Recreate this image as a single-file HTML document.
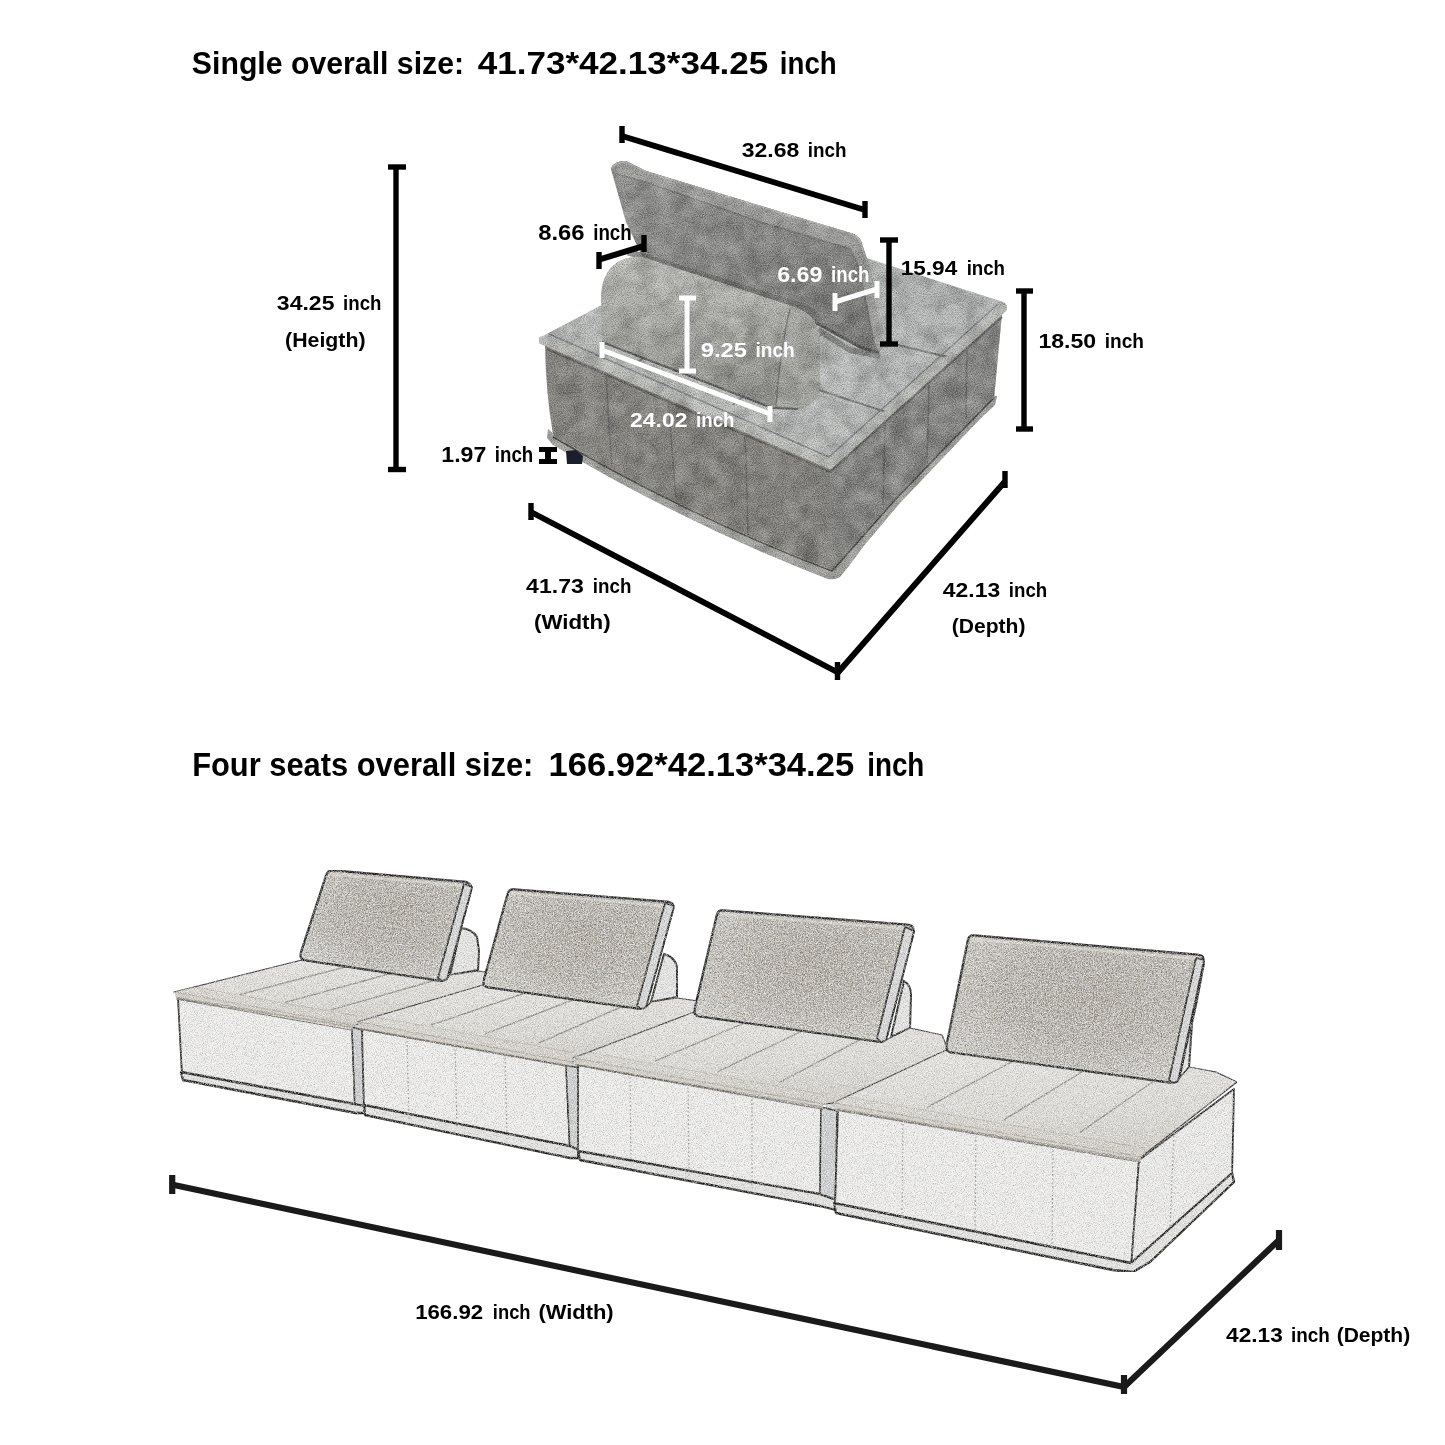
<!DOCTYPE html>
<html><head><meta charset="utf-8"><style>
html,body{margin:0;padding:0;background:#fff;width:1445px;height:1445px;overflow:hidden}
svg{display:block}
text{font-family:"Liberation Sans",sans-serif;font-weight:bold}
</style></head><body>
<svg width="1445" height="1445" viewBox="0 0 1445 1445">
<rect width="1445" height="1445" fill="#fff"/>

<defs>
  <linearGradient id="gFront" x1="0" y1="0" x2="0" y2="1">
    <stop offset="0" stop-color="#86857f"/><stop offset="1" stop-color="#7e7d77"/>
  </linearGradient>
  <linearGradient id="gRight" x1="0" y1="0" x2="1" y2="0">
    <stop offset="0" stop-color="#7f807c"/><stop offset="1" stop-color="#888985"/>
  </linearGradient>
  <linearGradient id="gTop" x1="0" y1="1" x2="1" y2="0">
    <stop offset="0" stop-color="#c5c6c2"/><stop offset="0.5" stop-color="#c0c4c2"/><stop offset="1" stop-color="#b3b7b5"/>
  </linearGradient>
  <linearGradient id="gBol" x1="0" y1="0" x2="0" y2="1">
    <stop offset="0" stop-color="#c6c6c1"/><stop offset="0.45" stop-color="#adada8"/><stop offset="1" stop-color="#8c8c88"/>
  </linearGradient>
  <linearGradient id="gBack" x1="0" y1="0" x2="1" y2="1">
    <stop offset="0" stop-color="#929290"/><stop offset="0.5" stop-color="#858582"/><stop offset="1" stop-color="#72726f"/>
  </linearGradient>
  <filter id="grain" x="0" y="0" width="100%" height="100%" color-interpolation-filters="sRGB">
    <feTurbulence type="fractalNoise" baseFrequency="0.055" numOctaves="3" seed="4" result="n1"/>
    <feTurbulence type="fractalNoise" baseFrequency="0.9" numOctaves="2" seed="7" result="n2"/>
    <feColorMatrix in="n1" type="matrix" values="0 0 0 0 0  0 0 0 0 0  0 0 0 0 0  0.45 0 0 0 -0.17" result="d1"/>
    <feColorMatrix in="n1" type="matrix" values="0 0 0 0 1  0 0 0 0 1  0 0 0 0 1  0 0.45 0 0 -0.17" result="l1"/>
    <feColorMatrix in="n2" type="matrix" values="0 0 0 0 0  0 0 0 0 0  0 0 0 0 0  0.6 0 0 0 -0.2" result="d2"/>
    <feColorMatrix in="n2" type="matrix" values="0 0 0 0 1  0 0 0 0 1  0 0 0 0 1  0 0.6 0 0 -0.2" result="l2"/>
    <feMerge result="m"><feMergeNode in="d1"/><feMergeNode in="l1"/><feMergeNode in="d2"/><feMergeNode in="l2"/></feMerge>
    <feComposite in="m" in2="SourceAlpha" operator="in" result="m2"/>
    <feMerge><feMergeNode in="SourceGraphic"/><feMergeNode in="m2"/></feMerge>
  </filter>
  <filter id="grainL" x="0" y="0" width="100%" height="100%" color-interpolation-filters="sRGB">
    <feTurbulence type="fractalNoise" baseFrequency="1.1" numOctaves="2" seed="3" result="n"/>
    <feColorMatrix in="n" type="matrix" values="0 0 0 0 0.45  0 0 0 0 0.43  0 0 0 0 0.4  1.0 0 0 0 -0.42" result="d"/>
    <feColorMatrix in="n" type="matrix" values="0 0 0 0 1  0 0 0 0 1  0 0 0 0 1  0 1.6 0 0 -0.6" result="l"/>
    <feComposite in="d" in2="SourceAlpha" operator="in" result="d2"/>
    <feComposite in="l" in2="SourceAlpha" operator="in" result="l2"/>
    <feMerge><feMergeNode in="SourceGraphic"/><feMergeNode in="d2"/><feMergeNode in="l2"/></feMerge>
  </filter>
  <filter id="grainP" x="0" y="0" width="100%" height="100%" color-interpolation-filters="sRGB">
    <feTurbulence type="fractalNoise" baseFrequency="0.75" numOctaves="2" seed="11" result="n"/>
    <feColorMatrix in="n" type="matrix" values="0 0 0 0 0.35  0 0 0 0 0.33  0 0 0 0 0.3  1.6 0 0 0 -0.62" result="d"/>
    <feColorMatrix in="n" type="matrix" values="0 0 0 0 1  0 0 0 0 1  0 0 0 0 1  0 1.8 0 0 -0.7" result="l"/>
    <feComposite in="d" in2="SourceAlpha" operator="in" result="d2"/>
    <feComposite in="l" in2="SourceAlpha" operator="in" result="l2"/>
    <feMerge><feMergeNode in="SourceGraphic"/><feMergeNode in="d2"/><feMergeNode in="l2"/></feMerge>
  </filter>
</defs>
<g id="upper" filter="url(#grain)">
  <!-- base lip -->
  <path d="M548,429 L556,436 Q694,514 832,566 L895,496 L943,446 L980,408 L991,396 L997,396 L995,405 L980,419 L900,503 L863,547 L849,566 L840,577 Q835,580 828,579 Q690,526 553,445 L547,438 Z" fill="#a9a9a5"/>
  <!-- seat right face -->
  <path d="M830,468 L1002,314 L994,399 L980,412 L943,450 L895,500 L834,571 Z" fill="url(#gRight)"/>
  <!-- seat front face -->
  <path d="M545,345 L830,468 L836,571 Q694,518 556,437 L553,434 Q546,395 545,345 Z" fill="url(#gFront)"/>
  <path d="M553,437 Q694,519 832,571 L895,500 L943,450 L980,412 L993,399" stroke="#3f3f3d" stroke-width="1.5" fill="none" stroke-linejoin="round"/>
  <!-- seams -->
  <g stroke="#5d5c58" stroke-width="1.6" fill="none" opacity="0.85">
    <path d="M606,372 Q608,420 612,466"/>
    <path d="M668,398 Q672,450 676,498"/>
    <path d="M745,432 Q747,490 748,535"/>
    <path d="M885,423 Q884,470 883,505"/>
    <path d="M929,385 Q928,430 927,459"/>
    <path d="M967,350 Q966,390 966,419"/>
  </g>
  <!-- seat top -->
  <path d="M539,338 L758,223 L1000,301 Q1008,303 1006,308 L830,465 Z" fill="url(#gTop)"/>
  <!-- tufting -->
  <g stroke="#6f7170" stroke-width="2" fill="none" opacity="0.9">
    <path d="M604,309 Q700,352 886,412"/>
    <path d="M658,274 Q780,318 948,357"/>
    <path d="M636,363 Q700,320 779,276"/>
    <path d="M733,405 Q800,350 873,296"/>
  </g>
  <g stroke="#b3b5b3" stroke-width="2" fill="none" opacity="0.6">
    <path d="M600,310 Q700,356 886,418"/>
    <path d="M660,278 Q780,322 946,362"/>
  </g>
  <!-- piping on seat top edges -->
  <path d="M547,349 L830,472 L1002,317" stroke="#5a5a58" stroke-width="2" fill="none" stroke-linejoin="round"/>
  <path d="M539,340 L830,466 L1005,308" stroke="#c0c0bc" stroke-width="6" fill="none" stroke-linejoin="round" stroke-linecap="round"/>
  <path d="M549,334 L829,457 L998,304" stroke="#777977" stroke-width="1.6" fill="none" stroke-linejoin="round" opacity="0.85"/>
  <path d="M540,337 L830,462 L1004,305" stroke="#c6c6c2" stroke-width="1.5" fill="none" stroke-linejoin="round" opacity="0.7"/>
  <!-- back cushion -->
  <path d="M611,169 Q613,161 626,161 L646,171 L854,234 Q861,238 862,244 L870,268 L883,332 L886,343 L879,352 L860,347 L815,321 L642,256 L626,222 Z" fill="url(#gBack)"/>
  <!-- welt band top+right -->
  <path d="M611,169 Q613,161 626,161 L646,171 L854,234 Q861,238 862,244 L870,268 L883,332 L886,343 L879,352 L874,340 L860,268 L851,248 L760,221 L648,182 L617,173 Z" fill="#a3a3a0"/>
  <path d="M617,174 L648,183 L760,222 L850,249 L859,268 L873,338" stroke="#6f6f6c" stroke-width="1.3" fill="none"/>
  <path d="M612,170 Q614,162 626,162 L646,172 L854,235 Q860,239 861,244 L869,268 L882,332 L885,343" stroke="#b8b8b4" stroke-width="1.5" fill="none"/>
  <path d="M815,322 L860,347 L879,353" stroke="#4a4a48" stroke-width="3" fill="none"/>
  <path d="M628,252 L800,306 Q815,312 820,322" stroke="#5c5c5a" stroke-width="7" fill="none" opacity="0.7"/>
  <path d="M818,330 L850,350 L880,356" stroke="#555553" stroke-width="6" fill="none" opacity="0.6"/>
  <!-- bolster -->
  <path d="M601,302 Q600,268 624,259 Q635,256 642,257 L792,306 Q818,314 820,340 L820,385 Q818,405 798,409 L772,408 L602,342 Z" fill="url(#gBol)"/>
  <path d="M612,270 Q625,262 642,262 L790,312" stroke="#bdbdb9" stroke-width="5" fill="none" opacity="0.55"/>
  <path d="M790,309 Q780,350 776,406 L798,409 Q818,405 820,385 L820,340 Q818,316 796,308 Z" fill="#a7a7a3"/>
  <path d="M790,309 Q780,350 776,406" stroke="#6c6c69" stroke-width="1.4" fill="none"/>
  <path d="M602,342 L772,408 L798,409" stroke="#4e4e4c" stroke-width="2" fill="none"/>
</g>
<!-- foot -->
<path d="M566,451 L576,450 L583,456 L582,464 L567,464 Z" fill="#1a1f2b"/>


<defs>
  <linearGradient id="gLTop" x1="0" y1="0" x2="0" y2="1">
    <stop offset="0" stop-color="#e4e3e0"/><stop offset="0.6" stop-color="#dad8d4"/><stop offset="1" stop-color="#cbc7c0"/>
  </linearGradient>
  <radialGradient id="gPil" cx="0.55" cy="0.4" r="0.65">
    <stop offset="0" stop-color="#9d978d"/><stop offset="0.55" stop-color="#aca79f"/><stop offset="1" stop-color="#d0cdc7"/>
  </radialGradient>
</defs>

<g filter="url(#grainL)">
<g id="lower">
<rect x="351" y="1021" width="12" height="10" fill="#cfcfcd"/>
<rect x="568" y="1057" width="12" height="10" fill="#cfcfcd"/>
<rect x="826" y="1101" width="12" height="10" fill="#cfcfcd"/>
<g><path d="M461,928 Q472,929 477,937 L479,951 L478,970 L450,975 Z" fill="#e4e4e4" stroke="#1e1e1e" stroke-width="2"/><path d="M174,992 L302,960 L447,979 L450,975 L478,971 L486,972 L486,988 L360,1024 L353,1025 Z" fill="url(#gLTop)" stroke="#2a2a2a" stroke-width="1.2" stroke-linejoin="round"/><path d="M178,998 L352,1027 L355,1108 L182,1075 Z" fill="#ededec" stroke="#1e1e1e" stroke-width="1.8" stroke-linejoin="round"/><path d="M352,1027 L362,1030 L364,1110 L355,1108 Z" fill="#c9cbcd" stroke="#1e1e1e" stroke-width="1.4" stroke-linejoin="round"/><path d="M181,1072 L355,1104 L364,1106 L365,1113 L356,1113 L183,1080 Z" fill="#e2e2e0" stroke="#161616" stroke-width="2.3" stroke-linejoin="round"/><clipPath id="cp0"><path d="M174,992 L302,960 L447,979 L450,975 L478,971 L486,972 L486,988 L360,1024 L353,1025 Z"/><path d="M178,998 L352,1027 L355,1108 L182,1075 Z"/><path d="M174,992 L353,1025 L353,1034 L177,1001 Z"/></clipPath><g clip-path="url(#cp0)"><path d="M170,994 L357,1027" stroke="#c4bfb6" stroke-width="6" fill="none" opacity="0.8"/><path d="M170,998 L357,1031" stroke="#6f6a63" stroke-width="1.2" fill="none"/><path d="M170,988 L357,1021" stroke="#d0ccc4" stroke-width="8" fill="none" opacity="0.5"/><path d="M170,983 L357,1016" stroke="#aaa49a" stroke-width="1" fill="none" opacity="0.6"/></g><path d="M239.7,994.6 L347.2,966.5" stroke="#8f8a82" stroke-width="1.4" fill="none"/><path d="M285.0,1002.4 L392.5,973.0" stroke="#8f8a82" stroke-width="1.4" fill="none"/><path d="M330.2,1010.2 L437.8,979.5" stroke="#8f8a82" stroke-width="1.4" fill="none"/><path d="M326.4,874.7 Q328,870 333.0,870.4 L463.0,881.6 Q468,882 469.8,884.3 L470.2,884.7 Q472,887 470.7,891.8 L448.3,974.2 Q447,979 444.7,979.9 L444.3,980.1 Q442,981 437.1,980.3 L306.9,960.7 Q302,960 301.1,957.7 L300.9,957.3 Q300,955 301.6,950.3 Z" fill="url(#gPil)" filter="url(#grainP)"/><path d="M326.4,874.7 Q328,870 333.0,870.4 L463.0,881.6 Q468,882 469.8,884.3 L470.2,884.7 Q472,887 470.7,891.8 L448.3,974.2 Q447,979 444.7,979.9 L444.3,980.1 Q442,981 437.1,980.3 L306.9,960.7 Q302,960 301.1,957.7 L300.9,957.3 Q300,955 301.6,950.3 Z" fill="none" stroke="#1b1b1b" stroke-width="2.3" stroke-linejoin="round"/><path d="M330,874 L465,886" stroke="#d8d6d2" stroke-width="2.5" fill="none" opacity="0.8"/><path d="M464,884 L472,887 L447,979 L442,981 L438,978 Z" fill="#d3d4d5" stroke="#1b1b1b" stroke-width="1.6" stroke-linejoin="round"/><path d="M464,884 L438,978" stroke="#2a2a2a" stroke-width="1.5" fill="none"/></g>
<g><path d="M664,954 Q675,957 677,967 L677,997 L651,1002 Z" fill="#e4e4e4" stroke="#1e1e1e" stroke-width="2"/><path d="M357,1022 L483,985 L646,1007 L651,1002 L677,998 L698,1001 L698,1012 L576,1060 L572,1062 Z" fill="url(#gLTop)" stroke="#2a2a2a" stroke-width="1.2" stroke-linejoin="round"/><path d="M362,1029 L566,1065 L570,1151 L364,1110 Z" fill="#ededec" stroke="#1e1e1e" stroke-width="1.8" stroke-linejoin="round"/><path d="M566,1065 L579,1068 L579,1156 L570,1151 Z" fill="#c9cbcd" stroke="#1e1e1e" stroke-width="1.4" stroke-linejoin="round"/><path d="M364,1105 L570,1146 L579,1150 L580,1158 L570,1158 L365,1115 Z" fill="#e2e2e0" stroke="#161616" stroke-width="2.3" stroke-linejoin="round"/><path d="M407,1037 L409,1120" stroke="#9a9a98" stroke-width="1.2" stroke-dasharray="2 2"/><path d="M455,1045 L457,1129" stroke="#9a9a98" stroke-width="1.2" stroke-dasharray="2 2"/><path d="M505,1054 L507,1139" stroke="#9a9a98" stroke-width="1.2" stroke-dasharray="2 2"/><clipPath id="cp1"><path d="M357,1022 L483,985 L646,1007 L651,1002 L677,998 L698,1001 L698,1012 L576,1060 L572,1062 Z"/><path d="M362,1029 L566,1065 L570,1151 L364,1110 Z"/><path d="M357,1022 L572,1062 L572,1071 L360,1031 Z"/></clipPath><g clip-path="url(#cp1)"><path d="M353,1024 L576,1064" stroke="#c4bfb6" stroke-width="6" fill="none" opacity="0.8"/><path d="M353,1028 L576,1068" stroke="#6f6a63" stroke-width="1.2" fill="none"/><path d="M353,1018 L576,1058" stroke="#d0ccc4" stroke-width="8" fill="none" opacity="0.5"/><path d="M353,1013 L576,1053" stroke="#aaa49a" stroke-width="1" fill="none" opacity="0.6"/></g><path d="M430.9,1025.1 L536.8,989.0" stroke="#8f8a82" stroke-width="1.4" fill="none"/><path d="M484.7,1034.2 L590.5,993.0" stroke="#8f8a82" stroke-width="1.4" fill="none"/><path d="M538.4,1043.2 L644.2,997.0" stroke="#8f8a82" stroke-width="1.4" fill="none"/><path d="M507.7,893.8 Q509,889 514.0,889.4 L666.0,901.6 Q671,902 672.4,903.8 L672.6,904.2 Q674,906 672.7,910.8 L647.3,1002.2 Q646,1007 643.7,1007.9 L643.3,1008.1 Q641,1009 636.0,1008.3 L490.0,987.7 Q485,987 484.1,985.2 L483.9,984.8 Q483,983 484.3,978.2 Z" fill="url(#gPil)" filter="url(#grainP)"/><path d="M507.7,893.8 Q509,889 514.0,889.4 L666.0,901.6 Q671,902 672.4,903.8 L672.6,904.2 Q674,906 672.7,910.8 L647.3,1002.2 Q646,1007 643.7,1007.9 L643.3,1008.1 Q641,1009 636.0,1008.3 L490.0,987.7 Q485,987 484.1,985.2 L483.9,984.8 Q483,983 484.3,978.2 Z" fill="none" stroke="#1b1b1b" stroke-width="2.3" stroke-linejoin="round"/><path d="M511,893 L668,906" stroke="#d8d6d2" stroke-width="2.5" fill="none" opacity="0.8"/><path d="M665,903 L674,906 L646,1007 L641,1009 L637,1006 Z" fill="#d3d4d5" stroke="#1b1b1b" stroke-width="1.6" stroke-linejoin="round"/><path d="M665,903 L637,1006" stroke="#2a2a2a" stroke-width="1.5" fill="none"/></g>
<g><path d="M904,981 Q911,985 911,995 L910,1028 L891,1037 Z" fill="#e4e4e4" stroke="#1e1e1e" stroke-width="2"/><path d="M573,1058 L694,1012 L886,1040 L910,1028 L942,1035 L948,1050 L836,1103 L823,1104 Z" fill="url(#gLTop)" stroke="#2a2a2a" stroke-width="1.2" stroke-linejoin="round"/><path d="M578,1065 L821,1107 L820,1199 L578,1156 Z" fill="#ededec" stroke="#1e1e1e" stroke-width="1.8" stroke-linejoin="round"/><path d="M821,1107 L837,1111 L835,1208 L820,1199 Z" fill="#c9cbcd" stroke="#1e1e1e" stroke-width="1.4" stroke-linejoin="round"/><path d="M578,1151 L820,1194 L836,1200 L836,1210 L820,1206 L580,1160 Z" fill="#e2e2e0" stroke="#161616" stroke-width="2.3" stroke-linejoin="round"/><path d="M630,1073 L631,1165" stroke="#9a9a98" stroke-width="1.2" stroke-dasharray="2 2"/><path d="M688,1083 L689,1176" stroke="#9a9a98" stroke-width="1.2" stroke-dasharray="2 2"/><path d="M752,1095 L752,1188" stroke="#9a9a98" stroke-width="1.2" stroke-dasharray="2 2"/><clipPath id="cp2"><path d="M573,1058 L694,1012 L886,1040 L910,1028 L942,1035 L948,1050 L836,1103 L823,1104 Z"/><path d="M578,1065 L821,1107 L820,1199 L578,1156 Z"/><path d="M573,1058 L823,1104 L823,1113 L576,1067 Z"/></clipPath><g clip-path="url(#cp2)"><path d="M569,1060 L827,1106" stroke="#c4bfb6" stroke-width="6" fill="none" opacity="0.8"/><path d="M569,1064 L827,1110" stroke="#6f6a63" stroke-width="1.2" fill="none"/><path d="M569,1054 L827,1100" stroke="#d0ccc4" stroke-width="8" fill="none" opacity="0.5"/><path d="M569,1049 L827,1095" stroke="#aaa49a" stroke-width="1" fill="none" opacity="0.6"/></g><path d="M654.8,1061.2 L756.0,1017.8" stroke="#8f8a82" stroke-width="1.4" fill="none"/><path d="M717.2,1071.8 L818.0,1023.5" stroke="#8f8a82" stroke-width="1.4" fill="none"/><path d="M779.6,1082.4 L880.0,1029.2" stroke="#8f8a82" stroke-width="1.4" fill="none"/><path d="M716.9,914.9 Q718,910 723.0,910.4 L907.0,924.6 Q912,925 912.9,927.7 L913.1,928.3 Q914,931 912.8,935.8 L887.2,1035.2 Q886,1040 883.7,1040.9 L883.3,1041.1 Q881,1042 876.0,1041.3 L701.0,1016.7 Q696,1016 695.1,1014.2 L694.9,1013.8 Q694,1012 695.1,1007.1 Z" fill="url(#gPil)" filter="url(#grainP)"/><path d="M716.9,914.9 Q718,910 723.0,910.4 L907.0,924.6 Q912,925 912.9,927.7 L913.1,928.3 Q914,931 912.8,935.8 L887.2,1035.2 Q886,1040 883.7,1040.9 L883.3,1041.1 Q881,1042 876.0,1041.3 L701.0,1016.7 Q696,1016 695.1,1014.2 L694.9,1013.8 Q694,1012 695.1,1007.1 Z" fill="none" stroke="#1b1b1b" stroke-width="2.3" stroke-linejoin="round"/><path d="M720,914 L909,929" stroke="#d8d6d2" stroke-width="2.5" fill="none" opacity="0.8"/><path d="M905,927 L914,931 L886,1040 L881,1042 L877,1038 Z" fill="#d3d4d5" stroke="#1b1b1b" stroke-width="1.6" stroke-linejoin="round"/><path d="M905,927 L877,1038" stroke="#2a2a2a" stroke-width="1.5" fill="none"/></g>
<g><path d="M1204,963 L1197,1000 L1192,1023 L1189,1067 L1179,1080 Z" fill="#e4e4e4" stroke="#1e1e1e" stroke-width="2"/><path d="M833,1103 L946,1050 L1177,1081 L1189,1067 L1216,1072 L1237,1082 L1141,1157 Z" fill="url(#gLTop)" stroke="#2a2a2a" stroke-width="1.2" stroke-linejoin="round"/><path d="M838,1109 L1139,1160 L1131,1268 L835,1208 Z" fill="#ededec" stroke="#1e1e1e" stroke-width="1.8" stroke-linejoin="round"/><path d="M1139,1160 L1234,1089 L1232,1178 L1131,1268 Z" fill="#ebebea" stroke="#1e1e1e" stroke-width="1.8" stroke-linejoin="round"/><path d="M834,1203 L1131,1263 L1232,1173 L1234,1182 L1150,1262 L1133,1272 L1113,1270 L836,1213 Z" fill="#e2e2e0" stroke="#161616" stroke-width="2.3" stroke-linejoin="round"/><path d="M903,1120 L902,1218" stroke="#9a9a98" stroke-width="1.2" stroke-dasharray="2 2"/><path d="M976,1132 L975,1233" stroke="#9a9a98" stroke-width="1.2" stroke-dasharray="2 2"/><path d="M1053,1146 L1052,1250" stroke="#9a9a98" stroke-width="1.2" stroke-dasharray="2 2"/><path d="M1174,1132 L1170,1228" stroke="#9a9a98" stroke-width="1.2" stroke-dasharray="2 2"/><clipPath id="cp3"><path d="M833,1103 L946,1050 L1177,1081 L1189,1067 L1216,1072 L1237,1082 L1141,1157 Z"/><path d="M838,1109 L1139,1160 L1131,1268 L835,1208 Z"/><path d="M833,1103 L1141,1157 L1141,1166 L836,1112 Z"/></clipPath><g clip-path="url(#cp3)"><path d="M829,1105 L1145,1159" stroke="#c4bfb6" stroke-width="6" fill="none" opacity="0.8"/><path d="M829,1109 L1145,1163" stroke="#6f6a63" stroke-width="1.2" fill="none"/><path d="M829,1099 L1145,1153" stroke="#d0ccc4" stroke-width="8" fill="none" opacity="0.5"/><path d="M829,1094 L1145,1148" stroke="#aaa49a" stroke-width="1" fill="none" opacity="0.6"/></g><path d="M927.4,1107.1 L1018.8,1058.0" stroke="#8f8a82" stroke-width="1.4" fill="none"/><path d="M1003.7,1119.8 L1091.5,1066.0" stroke="#8f8a82" stroke-width="1.4" fill="none"/><path d="M1080.0,1132.4 L1164.2,1074.0" stroke="#8f8a82" stroke-width="1.4" fill="none"/><path d="M968.0,939.9 Q969,935 974.0,935.4 L1197.0,954.6 Q1202,955 1202.9,957.3 L1203.1,957.7 Q1204,960 1202.9,964.9 L1179.1,1076.1 Q1178,1081 1175.7,1081.9 L1175.3,1082.1 Q1173,1083 1168.0,1082.3 L953.0,1052.7 Q948,1052 947.1,1050.2 L946.9,1049.8 Q946,1048 947.0,1043.1 Z" fill="url(#gPil)" filter="url(#grainP)"/><path d="M968.0,939.9 Q969,935 974.0,935.4 L1197.0,954.6 Q1202,955 1202.9,957.3 L1203.1,957.7 Q1204,960 1202.9,964.9 L1179.1,1076.1 Q1178,1081 1175.7,1081.9 L1175.3,1082.1 Q1173,1083 1168.0,1082.3 L953.0,1052.7 Q948,1052 947.1,1050.2 L946.9,1049.8 Q946,1048 947.0,1043.1 Z" fill="none" stroke="#1b1b1b" stroke-width="2.3" stroke-linejoin="round"/><path d="M971,939 L1199,959" stroke="#d8d6d2" stroke-width="2.5" fill="none" opacity="0.8"/><path d="M1196,958 L1204,960 L1178,1081 L1173,1083 L1169,1080 Z" fill="#d3d4d5" stroke="#1b1b1b" stroke-width="1.6" stroke-linejoin="round"/><path d="M1196,958 L1169,1080" stroke="#2a2a2a" stroke-width="1.5" fill="none"/></g>
</g>
</g>

<g stroke="#000" stroke-width="5.4" fill="none">
  <line x1="396" y1="167" x2="396" y2="469"/>
  <line x1="388" y1="167" x2="406" y2="167"/>
  <line x1="388" y1="469.5" x2="406" y2="469.5"/>
  <line x1="622" y1="136" x2="865" y2="210" stroke-width="5.9"/>
  <line x1="622" y1="126" x2="622" y2="143"/>
  <line x1="865" y1="201" x2="865" y2="218"/>
  <line x1="599" y1="259.6" x2="644" y2="245.9" stroke-width="5.9"/>
  <line x1="599" y1="252" x2="599" y2="269"/>
  <line x1="644" y1="235" x2="644" y2="252"/>
  <line x1="889" y1="240" x2="889" y2="344"/>
  <line x1="880" y1="240" x2="898" y2="240"/>
  <line x1="880" y1="344" x2="898" y2="344"/>
  <line x1="1024" y1="291" x2="1024" y2="429"/>
  <line x1="1016" y1="291" x2="1033" y2="291"/>
  <line x1="1016" y1="429" x2="1033" y2="429"/>
  <line x1="531" y1="512" x2="838" y2="672.5" stroke-width="5.9"/>
  <line x1="531" y1="503" x2="531" y2="520"/>
  <line x1="838" y1="672.5" x2="1004.5" y2="482" stroke-width="5.9"/>
  <line x1="837.5" y1="662" x2="837.5" y2="680"/>
  <line x1="1005" y1="471" x2="1005" y2="488"/>
</g>
<g stroke="#fff" stroke-width="5" fill="none">
  <line x1="835" y1="302" x2="877" y2="289"/>
  <line x1="835" y1="293" x2="835" y2="311"/>
  <line x1="877" y1="281" x2="877" y2="298"/>
  <line x1="687" y1="298" x2="687" y2="371"/>
  <line x1="679" y1="298" x2="696" y2="298"/>
  <line x1="679" y1="371" x2="696" y2="371"/>
  <line x1="602" y1="350" x2="770" y2="414"/>
  <line x1="602" y1="342" x2="602" y2="358"/>
  <line x1="770" y1="406" x2="770" y2="422"/>
</g>
<rect x="539" y="447" width="18" height="5" fill="#000"/>
<rect x="539" y="459" width="18" height="5" fill="#000"/>
<rect x="545" y="447" width="6" height="17" fill="#000"/>
<g stroke="#1a1a1a" stroke-width="6.2" fill="none">
  <line x1="174" y1="1185" x2="1124" y2="1387"/>
  <line x1="172.2" y1="1175" x2="172.2" y2="1194"/>
  <line x1="1124" y1="1387" x2="1279" y2="1240"/>
  <line x1="1124" y1="1375" x2="1124" y2="1394"/>
  <line x1="1279" y1="1230" x2="1279" y2="1250"/>
</g>

<g fill="#000">
<text x="191.86" y="73.6" font-size="32" textLength="272.23" lengthAdjust="spacingAndGlyphs">Single overall size:</text>
<text x="477.66" y="73.6" font-size="32" textLength="290.47" lengthAdjust="spacingAndGlyphs">41.73*42.13*34.25</text>
<text x="779.84" y="73.6" font-size="32" textLength="56.85" lengthAdjust="spacingAndGlyphs">inch</text>
<text x="192.18" y="775.7" font-size="33" textLength="341.22" lengthAdjust="spacingAndGlyphs">Four seats overall size:</text>
<text x="548.62" y="775.7" font-size="33" textLength="305.51" lengthAdjust="spacingAndGlyphs">166.92*42.13*34.25</text>
<text x="867.18" y="775.7" font-size="33" textLength="57.19" lengthAdjust="spacingAndGlyphs">inch</text>
<text x="741.76" y="157.2" font-size="21" textLength="57.49" lengthAdjust="spacingAndGlyphs">32.68</text>
<text x="807.86" y="157.2" font-size="21" textLength="38.71" lengthAdjust="spacingAndGlyphs">inch</text>
<text x="538.20" y="239.7" font-size="22" textLength="46.39" lengthAdjust="spacingAndGlyphs">8.66</text>
<text x="593.20" y="239.7" font-size="22" textLength="38.49" lengthAdjust="spacingAndGlyphs">inch</text>
<text x="900.74" y="274.5" font-size="21" textLength="56.49" lengthAdjust="spacingAndGlyphs">15.94</text>
<text x="966.64" y="274.5" font-size="21" textLength="38.37" lengthAdjust="spacingAndGlyphs">inch</text>
<text x="1038.40" y="347.8" font-size="21" textLength="57.73" lengthAdjust="spacingAndGlyphs">18.50</text>
<text x="1104.74" y="347.8" font-size="21" textLength="39.17" lengthAdjust="spacingAndGlyphs">inch</text>
<text x="276.86" y="309.9" font-size="21" textLength="57.61" lengthAdjust="spacingAndGlyphs">34.25</text>
<text x="343.08" y="309.9" font-size="21" textLength="38.37" lengthAdjust="spacingAndGlyphs">inch</text>
<text x="285.08" y="346.5" font-size="21" textLength="80.50" lengthAdjust="spacingAndGlyphs">(Heigth)</text>
<text x="441.30" y="461.8" font-size="22" textLength="44.95" lengthAdjust="spacingAndGlyphs">1.97</text>
<text x="494.86" y="461.8" font-size="22" textLength="38.37" lengthAdjust="spacingAndGlyphs">inch</text>
<text x="526.10" y="593.3" font-size="21" textLength="57.81" lengthAdjust="spacingAndGlyphs">41.73</text>
<text x="592.86" y="593.3" font-size="21" textLength="38.59" lengthAdjust="spacingAndGlyphs">inch</text>
<text x="533.96" y="629.4" font-size="21" textLength="76.61" lengthAdjust="spacingAndGlyphs">(Width)</text>
<text x="942.88" y="596.7" font-size="21" textLength="57.37" lengthAdjust="spacingAndGlyphs">42.13</text>
<text x="1008.86" y="596.7" font-size="21" textLength="38.37" lengthAdjust="spacingAndGlyphs">inch</text>
<text x="951.76" y="633.4" font-size="21" textLength="73.72" lengthAdjust="spacingAndGlyphs">(Depth)</text>
<text x="415.18" y="1319.4" font-size="21" textLength="67.93" lengthAdjust="spacingAndGlyphs">166.92</text>
<text x="492.86" y="1319.4" font-size="21" textLength="37.71" lengthAdjust="spacingAndGlyphs">inch</text>
<text x="538.42" y="1319.4" font-size="21" textLength="75.27" lengthAdjust="spacingAndGlyphs">(Width)</text>
<text x="1226.10" y="1342.4" font-size="21" textLength="56.71" lengthAdjust="spacingAndGlyphs">42.13</text>
<text x="1291.08" y="1342.4" font-size="21" textLength="38.83" lengthAdjust="spacingAndGlyphs">inch</text>
<text x="1336.64" y="1342.4" font-size="21" textLength="73.60" lengthAdjust="spacingAndGlyphs">(Depth)</text>
</g>
<g fill="#fff">
<text x="777.20" y="282.2" font-size="21.5" textLength="45.27" lengthAdjust="spacingAndGlyphs">6.69</text>
<text x="831.08" y="282.2" font-size="21.5" textLength="38.37" lengthAdjust="spacingAndGlyphs">inch</text>
<text x="700.86" y="356.9" font-size="21" textLength="46.05" lengthAdjust="spacingAndGlyphs">9.25</text>
<text x="755.52" y="356.9" font-size="21" textLength="39.17" lengthAdjust="spacingAndGlyphs">inch</text>
<text x="629.98" y="427.3" font-size="20" textLength="57.49" lengthAdjust="spacingAndGlyphs">24.02</text>
<text x="696.08" y="427.3" font-size="20" textLength="38.37" lengthAdjust="spacingAndGlyphs">inch</text>
</g>
</svg>
</body></html>
